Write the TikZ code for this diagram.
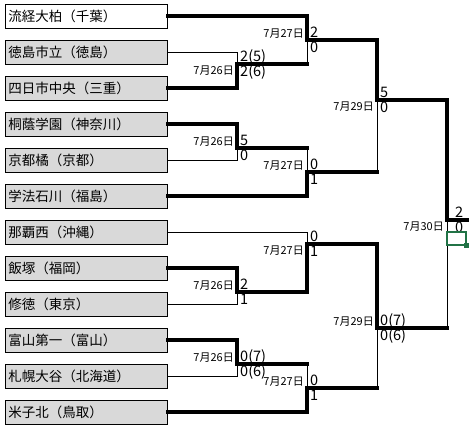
\documentclass[tikz,border=0pt]{standalone}
\usepackage{fontspec}
\setmainfont{Noto Sans CJK JP}
\usetikzlibrary{calc, positioning}
\definecolor{BoxGray}{RGB}{217, 217, 217}
\definecolor{SelGreen}{RGB}{33, 115, 70}

\begin{document}
\begin{tikzpicture}[
  x=1pt, y=-1pt,
  team/.style={%
    rectangle, draw=black, line width=0.8pt,
    fill=BoxGray, font=\fontsize{13.5}{14}\selectfont,
    text width=156pt, minimum height=24pt,
    align=left, inner xsep=3pt, inner ysep=0pt, anchor=west},
  seed/.style={team, fill=white},
  day/.style={font=\fontsize{11}{11}\selectfont, inner sep=0pt},
  score/.style={font=\fontsize{14.5}{15}\selectfont, inner sep=0pt, anchor=base west},
  lose/.style={line width=0.9pt},
  win/.style={line width=3.2pt, line cap=rect}
]
\useasboundingbox (0,0) rectangle (473,433);

\node[seed] (ryutsu)    at (5,16)  {流経大柏（千葉）};
\node[team] (tokushima) at (5,52)  {徳島市立（徳島）};
\node[team] (yokkaichi) at (5,88)  {四日市中央（三重）};
\node[team] (toin)      at (5,124) {桐蔭学園（神奈川）};
\node[team] (tachibana) at (5,160) {京都橘（京都）};
\node[team] (gakuho)    at (5,196) {学法石川（福島）};
\node[team] (nahanishi) at (5,232) {那覇西（沖縄）};
\node[team] (iizuka)    at (5,268) {飯塚（福岡）};
\node[team] (shutoku)   at (5,304) {修徳（東京）};
\node[team] (toyama)    at (5,340) {富山第一（富山）};
\node[team] (sapporo)   at (5,376) {札幌大谷（北海道）};
\node[team] (yonago)    at (5,412) {米子北（鳥取）};

\coordinate (r1a) at (237,64);
\coordinate (r1b) at (237,148);
\coordinate (r1c) at (237,292);
\coordinate (r1d) at (237,364);
\coordinate (r2a) at (307,40);
\coordinate (r2b) at (307,172);
\coordinate (r2c) at (307,244);
\coordinate (r2d) at (307,388);
\coordinate (sf1) at (377,100);
\coordinate (sf2) at (377,328);
\coordinate (fin) at (447,220);
\coordinate (champ) at (467,220);

% round 1
\draw[lose] (tokushima.east) -| (r1a);
\draw[win]  (yokkaichi.east) -| (r1a) -- (r1a -| r2a);
\draw[win]  (toin.east) -| (r1b) -- (r1b -| r2b);
\draw[lose] (tachibana.east) -| (r1b);
\draw[win]  (iizuka.east) -| (r1c) -- (r1c -| r2c);
\draw[lose] (shutoku.east) -| (r1c);
\draw[win]  (toyama.east) -| (r1d) -- (r1d -| r2d);
\draw[lose] (sapporo.east) -| (r1d);

% round 2
\draw[win]  (ryutsu.east) -| (r2a) -- (r2a -| sf1);
\draw[lose] (r1a -| r2a) -- (r2a);
\draw[lose] (r1b -| r2b) -- (r2b);
\draw[win]  (gakuho.east) -| (r2b) -- (r2b -| sf1);
\draw[lose] (nahanishi.east) -| (r2c);
\draw[win]  (r1c -| r2c) -- (r2c) -- (r2c -| sf2);
\draw[lose] (r1d -| r2d) -- (r2d);
\draw[win]  (yonago.east) -| (r2d) -- (r2d -| sf2);

% semi-finals and final
\draw[win]  (r2a -| sf1) -- (sf1) -- (sf1 -| fin);
\draw[lose] (r2b -| sf1) -- (sf1);
\draw[win]  (r2c -| sf2) -- (sf2) -- (sf2 -| fin);
\draw[lose] (r2d -| sf2) -- (sf2);
\draw[win]  (sf1 -| fin) -- (fin) -- (champ);
\draw[lose] (sf2 -| fin) -- (fin);

% dates
\node[day, below left=1.5pt and 3pt of r1a] (d1a) {7月26日};
\node[day, above left=1.5pt and 3pt of r1b] (d1b) {7月26日};
\node[day, above left=1.5pt and 3pt of r1c] (d1c) {7月26日};
\node[day, above left=1.5pt and 3pt of r1d] (d1d) {7月26日};
\node[day, above left=1.5pt and 3pt of r2a] (d2a) {7月27日};
\node[day, above left=1.5pt and 3pt of r2b] (d2b) {7月27日};
\node[day, below left=1.5pt and 3pt of r2c] (d2c) {7月27日};
\node[day, above left=1.5pt and 3pt of r2d] (d2d) {7月27日};
\node[day, below left=1.5pt and 3pt of sf1] (dsf1) {7月29日};
\node[day, above left=1.5pt and 3pt of sf2] (dsf2) {7月29日};
\node[day, below left=1.5pt and 3pt of fin] (dfin) {7月30日};

% scores
\node[score] (r1a-top) at ($(r1a)+(3,-2.5)$) {2(5)};
\node[score] (r1a-bot) at ($(r1a)+(3,12.5)$) {2(6)};
\node[score] (r1b-top) at ($(r1b)+(3,-2.5)$) {5};
\node[score] (r1b-bot) at ($(r1b)+(3,12.5)$) {0};
\node[score] (r1c-top) at ($(r1c)+(3,-2.5)$) {2};
\node[score] (r1c-bot) at ($(r1c)+(3,12.5)$) {1};
\node[score] (r1d-top) at ($(r1d)+(3,-2.5)$) {0(7)};
\node[score] (r1d-bot) at ($(r1d)+(3,12.5)$) {0(6)};
\node[score] (r2a-top) at ($(r2a)+(3,-2.5)$) {2};
\node[score] (r2a-bot) at ($(r2a)+(3,12.5)$) {0};
\node[score] (r2b-top) at ($(r2b)+(3,-2.5)$) {0};
\node[score] (r2b-bot) at ($(r2b)+(3,12.5)$) {1};
\node[score] (r2c-top) at ($(r2c)+(3,-2.5)$) {0};
\node[score] (r2c-bot) at ($(r2c)+(3,12.5)$) {1};
\node[score] (r2d-top) at ($(r2d)+(3,-2.5)$) {0};
\node[score] (r2d-bot) at ($(r2d)+(3,12.5)$) {1};
\node[score] (sf1-top) at ($(sf1)+(3,-2.5)$) {5};
\node[score] (sf1-bot) at ($(sf1)+(3,12.5)$) {0};
\node[score] (sf2-top) at ($(sf2)+(3,-2.5)$) {0(7)};
\node[score] (sf2-bot) at ($(sf2)+(3,12.5)$) {0(6)};
\node[score] (fin-top) at ($(fin)+(8,-2.5)$) {2};
\node[score] (fin-bot) at ($(fin)+(8,12.5)$) {0};

% selected cell
\draw[SelGreen, line width=2pt] (447,232) rectangle (466,245);
\fill[SelGreen] (464,243) rectangle (469,248);
\end{tikzpicture}
\end{document}
